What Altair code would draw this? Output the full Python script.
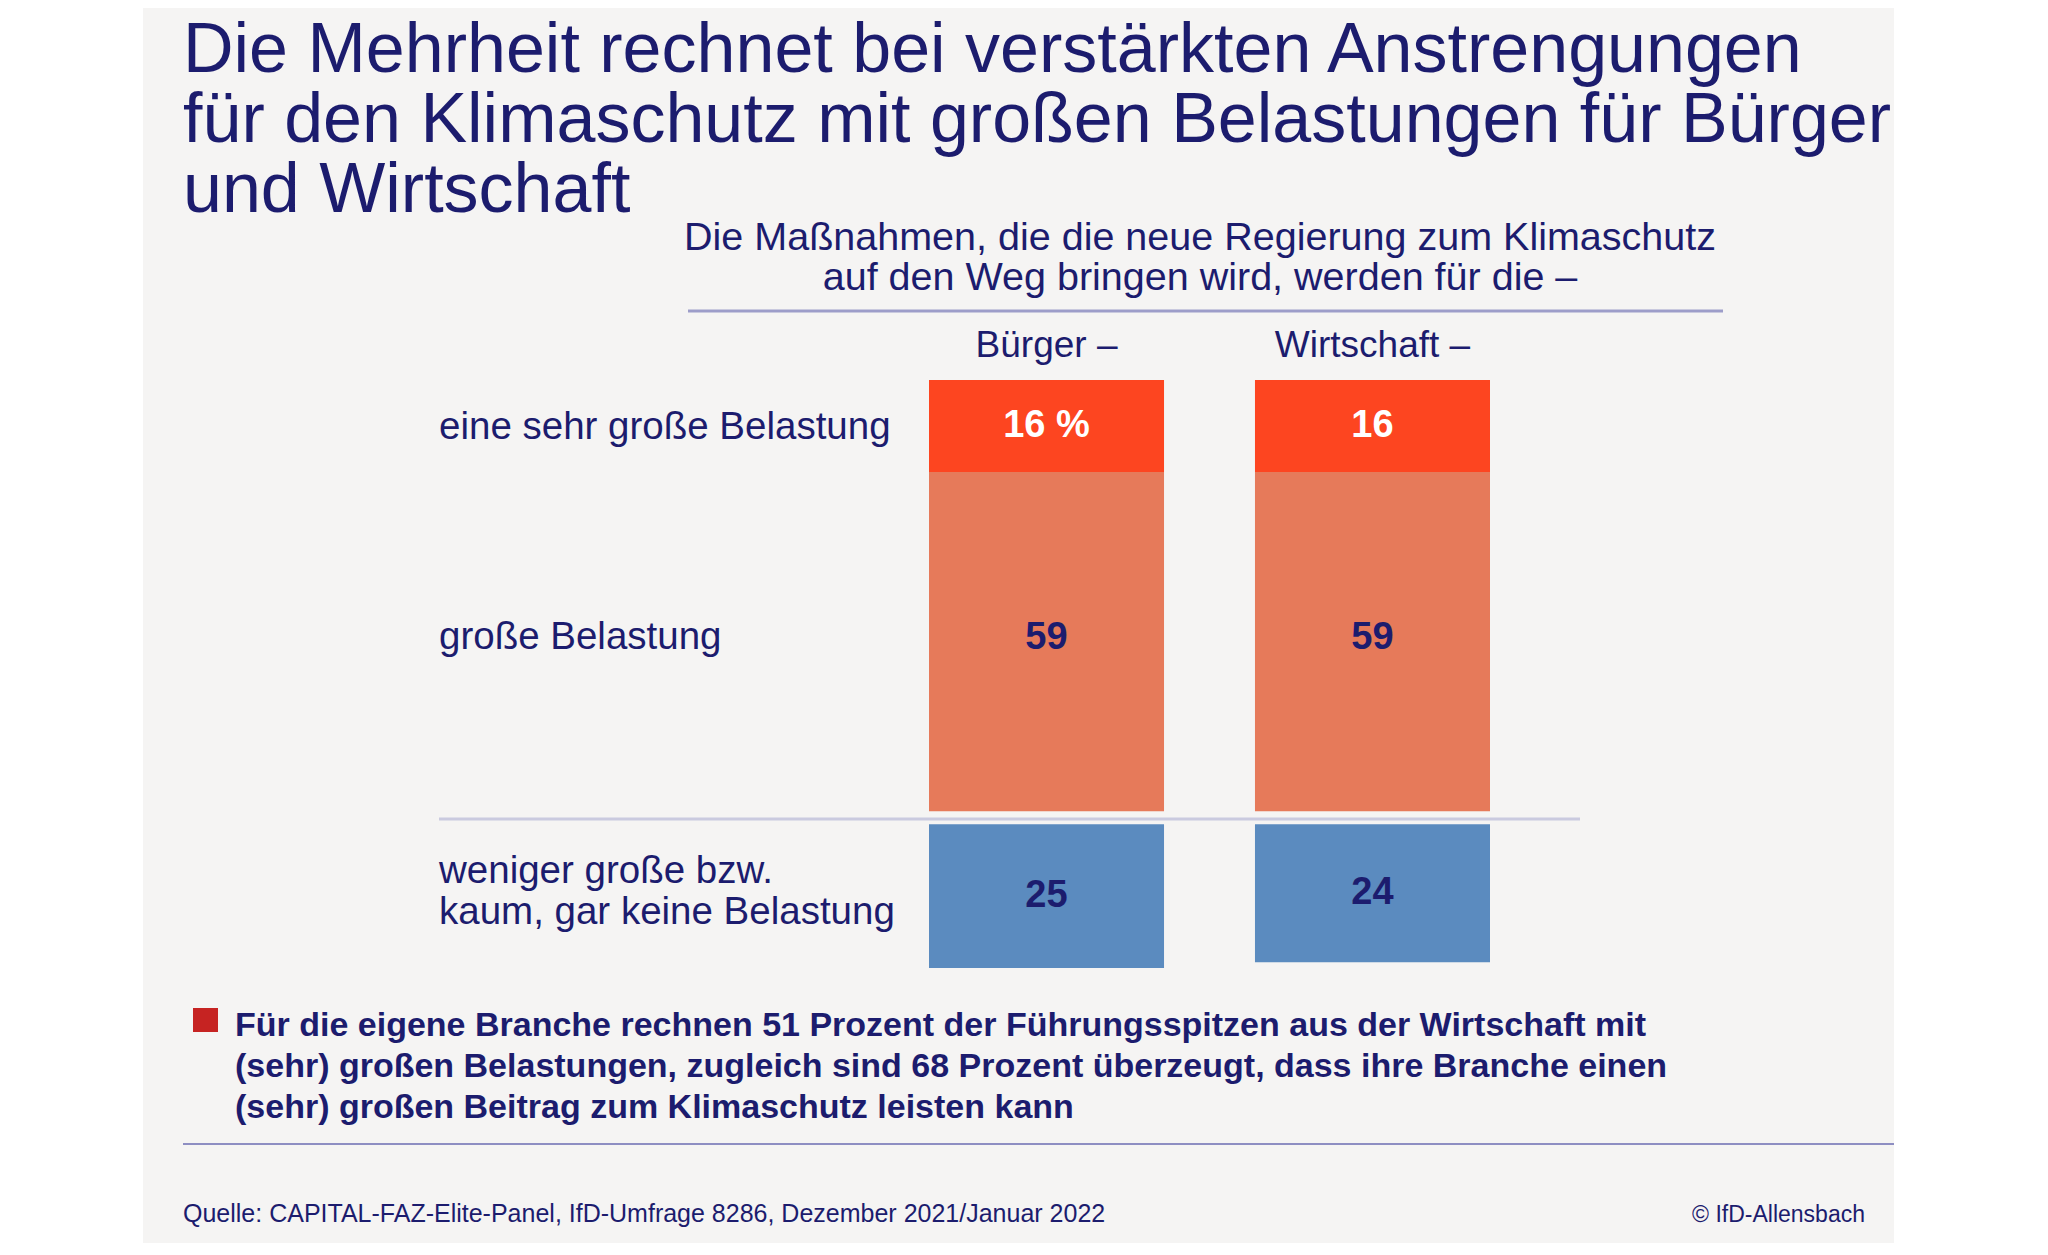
import altair as alt
import pandas as pd

# ---------------- data ----------------
groups = ["Bürger", "Wirtschaft"]
group_headers = ["Bürger –", "Wirtschaft –"]
categories = ["eine sehr große Belastung", "große Belastung",
              "weniger große bzw.\nkaum, gar keine Belastung"]
buerger = [16, 59, 25]
wirtschaft = [16, 59, 24]

title_lines = ["Die Mehrheit rechnet bei verstärkten Anstrengungen",
               "für den Klimaschutz mit großen Belastungen für Bürger",
               "und Wirtschaft"]
subtitle_lines = ["Die Maßnahmen, die die neue Regierung zum Klimaschutz",
                  "auf den Weg bringen wird, werden für die –"]
note_lines = ["Für die eigene Branche rechnen 51 Prozent der Führungsspitzen aus der Wirtschaft mit",
              "(sehr) großen Belastungen, zugleich sind 68 Prozent überzeugt, dass ihre Branche einen",
              "(sehr) großen Beitrag zum Klimaschutz leisten kann"]
source_text = "Quelle: CAPITAL-FAZ-Elite-Panel, IfD-Umfrage 8286, Dezember 2021/Januar 2022"
copyright_text = "© IfD-Allensbach"

# ---------------- styling ----------------
FONT = "Liberation Sans"
NAVY = "#1c1c6e"
PANEL = "#f5f4f3"
SEG_COLORS = ["#fd4520", "#e67a5a", "#5b8bbf"]
GAP = 2.26  # gap (in % units) between the "Belastung" stack and the lower bar
CAT_DY = [1, -5, -25]
VAL_DY = [0, -4, 0]

rows = []
for g, vals in zip(groups, [buerger, wirtschaft]):
    start = 0.0
    for i, (c, v) in enumerate(zip(categories, vals)):
        if i == 2:
            start += GAP
        lab = f"{v} %" if (g == groups[0] and i == 0) else f"{v}"
        rows.append({"group": g, "cat": c, "idx": i, "v": v, "y0": start, "y1": start + v,
                     "mid": start + v / 2, "label": lab, "first": i == 0})
        start += v
df = pd.DataFrame(rows)

xs = alt.Scale(domain=groups, range=[921, 1482], paddingInner=0.279, paddingOuter=0)
ys = alt.Scale(domain=[0, 100], range=[372, 947], nice=False, zero=False)


def txt(s, x, y, size, bold=False, align="left", baseline="alphabetic", color=NAVY, lh=None):
    kw = {}
    if lh is not None:
        kw = {"lineBreak": "\n", "lineHeight": lh}
    return alt.Chart(pd.DataFrame({"t": [s]})).mark_text(
        align=align, baseline=baseline, fontSize=size,
        fontWeight="bold" if bold else "normal", font=FONT, color=color, **kw
    ).encode(x=alt.value(x), y=alt.value(y), text="t:N")


def rule(x1, x2, y, color, w):
    return alt.Chart(pd.DataFrame({"a": [0]})).mark_rule(color=color, strokeWidth=w).encode(
        x=alt.value(x1), x2=alt.value(x2), y=alt.value(y))


panel = alt.Chart(pd.DataFrame({"a": [0]})).mark_rect(color=PANEL).encode(
    x=alt.value(135), x2=alt.value(1886), y=alt.value(-8), y2=alt.value(1235))

layers = [panel]
layers.append(txt("\n".join(title_lines), 175, 64, 70, lh=70))
layers.append(txt("\n".join(subtitle_lines), 1192, 242, 39.5, align="center", lh=40))
layers.append(rule(680, 1715, 303, "#9d9dc9", 3))
layers.append(rule(431, 1572, 811, "#cacadf", 3))

bars = alt.Chart(df).mark_rect().encode(
    x=alt.X("group:N", scale=xs, axis=None),
    y=alt.Y("y0:Q", scale=ys, axis=None),
    y2="y1:Q",
    color=alt.Color("cat:N", scale=alt.Scale(domain=categories, range=SEG_COLORS), legend=None),
)
layers.append(bars)

for i in range(3):
    layers.append(alt.Chart(df[df.idx == i]).mark_text(
        font=FONT, fontSize=38, fontWeight="bold", baseline="middle", dy=VAL_DY[i]).encode(
        x=alt.X("group:N", scale=xs, axis=None),
        y=alt.Y("mid:Q", scale=ys, axis=None),
        text="label:N",
        color=alt.condition("datum.first", alt.value("white"), alt.value(NAVY)),
    ))
    layers.append(alt.Chart(df[(df.group == groups[0]) & (df.idx == i)]).mark_text(
        font=FONT, fontSize=38.5, color=NAVY, align="left", baseline="middle",
        lineBreak="\n", lineHeight=41, dy=CAT_DY[i]).encode(
        x=alt.value(431), y=alt.Y("mid:Q", scale=ys, axis=None), text="cat:N"))

headers = alt.Chart(pd.DataFrame({"group": groups, "h": group_headers})).mark_text(
    font=FONT, fontSize=37, color=NAVY, baseline="alphabetic").encode(
    x=alt.X("group:N", scale=xs, axis=None), y=alt.value(349), text="h:N")
layers.append(headers)

layers.append(alt.Chart(pd.DataFrame({"a": [0]})).mark_rect(color="#c62322").encode(
    x=alt.value(185), x2=alt.value(210), y=alt.value(1000), y2=alt.value(1024)))
layers.append(txt("\n".join(note_lines), 227, 1028, 34, bold=True, lh=41))
layers.append(rule(175, 1886, 1136, "#8e8ec2", 2))
layers.append(txt(source_text, 175, 1214, 25))
layers.append(txt(copyright_text, 1857, 1214, 23, align="right"))

chart = alt.layer(*layers).properties(
    width=2032, height=1239,
    autosize=alt.AutoSizeParams(type="none"),
    padding=0,
    background="white",
).configure_view(stroke=None)

chart.save("out.html", embed_options={"renderer": "svg", "actions": False})
